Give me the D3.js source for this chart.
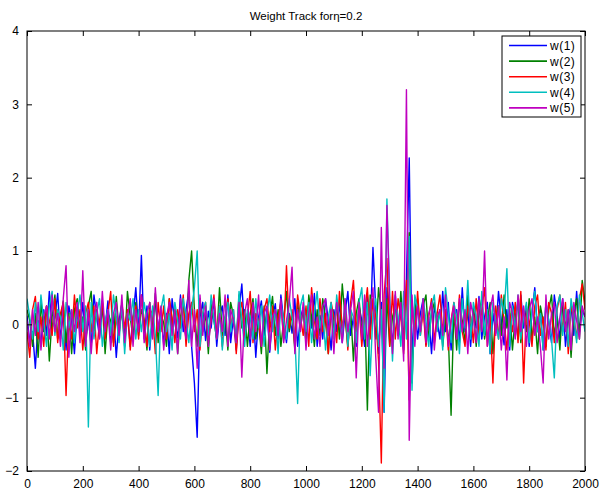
<!DOCTYPE html>
<html>
<head>
<meta charset="utf-8">
<script src="https://cdn.jsdelivr.net/npm/d3@7"></script>
<style>
  html, body { margin: 0; padding: 0; background: #fff; }
  svg { display: block; font-family: "Liberation Sans", Arial, sans-serif; }
</style>
</head>
<body>
<svg id="chart" width="600" height="491"></svg>
<script>
// Weight samples, one value every 10 iterations (0 .. 2000)
const step = 10;
const w1 = [
  0.12,-0.25,-0.1,-0.6,0.05,-0.3,0.2,-0.15,0.45,-0.05,0.1,0.42,-0.2,0.15,-0.35,0.25,0.05,-0.4,0.18,-0.1,
  0.3,-0.22,0.08,-0.3,0.4,0.1,-0.18,0.22,-0.05,0.32,-0.25,0.15,-0.45,0.05,0.28,-0.12,0.18,-0.3,0.1,0.5,
  -0.1,0.94,-0.2,0.25,-0.35,0.12,0.3,-0.08,0.2,-0.28,0.15,-0.4,0.35,0.02,-0.18,0.4,-0.1,0.2,0.45,-0.3,
  -0.8,-1.54,0.1,0.3,-0.22,0.18,-0.05,0.35,-0.3,0.12,0.25,-0.15,0.4,-0.25,0.1,-0.35,0.2,0.55,-0.1,0.15,
  -0.3,0.25,-0.45,0.1,0.32,-0.15,0.2,-0.38,0.08,0.28,-0.2,0.4,0.05,-0.25,0.15,-0.12,0.35,-0.3,0.1,0.22,
  -0.18,0.3,-0.05,0.42,-0.3,0.12,-0.2,0.35,0.05,-0.35,0.2,-0.1,0.3,-0.25,0.15,0.45,-0.15,0.1,-0.3,0.25,
  0.05,-0.3,0.4,-0.15,1.05,0.2,-0.4,0.3,-1.2,0.5,0.15,-0.3,0.4,-0.1,0.2,-0.35,0.6,2.27,-0.5,0.3,
  -0.2,0.15,0.35,-0.28,0.1,-0.4,0.25,0.05,-0.2,0.45,-0.1,0.3,-0.35,0.12,0.2,-0.25,0.5,-0.1,0.18,-0.3,
  0.22,-0.05,0.38,-0.2,0.1,0.3,-0.4,0.15,-0.12,0.45,0.05,-0.28,0.2,-0.35,0.3,0.1,-0.2,0.4,-0.05,0.25,
  -0.3,0.15,0.5,-0.1,0.2,-0.35,0.3,0.05,-0.25,0.4,0.12,-0.2,0.35,-0.3,0.1,0.25,-0.15,0.45,-0.1,0.2,
  0.1
];
const w2 = [
  0.2,0.05,-0.3,0.15,-0.45,0.3,-0.1,0.25,-0.5,0.1,0.4,-0.2,0.05,0.32,-0.25,0.15,-0.4,0.2,0.35,-0.1,
  0.1,-0.35,0.25,0.45,-0.15,0.2,-0.05,0.3,-0.4,0.15,0.05,-0.25,0.38,-0.1,0.2,-0.3,0.45,0.1,-0.2,0.3,
  -0.15,0.2,0.05,-0.35,0.3,-0.1,0.42,-0.25,0.15,0.02,-0.3,0.35,-0.05,0.25,-0.4,0.1,0.3,-0.2,0.6,1.0,
  0.2,-0.3,0.35,-0.1,0.15,-0.4,0.28,0.05,-0.2,0.5,-0.15,0.1,-0.35,0.3,0.12,-0.25,0.4,-0.05,0.2,-0.3,
  0.15,0.35,-0.2,0.05,-0.4,0.25,-0.67,0.1,0.38,-0.15,0.2,-0.3,0.05,0.45,-0.1,0.15,-0.35,0.3,-0.05,0.2,
  -0.25,0.4,0.1,-0.3,0.2,-0.15,0.35,0.05,-0.4,0.25,-0.1,0.3,-0.2,0.55,0.1,-0.3,0.2,-0.5,0.15,0.35,
  -0.1,0.25,-1.17,0.4,0.3,-0.2,0.5,0.15,-0.6,0.35,-0.3,0.1,0.25,-0.15,0.45,-0.2,0.3,1.25,-0.8,0.2,
  0.35,-0.1,0.25,0.4,-0.2,0.15,0.3,-0.05,0.2,-0.3,0.1,-0.15,-1.24,0.2,-0.35,0.3,0.05,-0.25,0.4,-0.1,
  0.2,-0.3,0.15,0.35,-0.2,0.05,0.3,-0.4,0.1,0.25,-0.15,0.4,-0.05,0.2,-0.35,0.1,0.3,-0.25,0.15,-0.1,
  0.35,-0.2,0.1,-0.4,0.25,0.05,-0.3,0.2,0.4,-0.15,0.1,-0.35,0.3,-0.05,0.2,-0.45,0.15,0.35,-0.2,0.6,
  0.3
];
const w3 = [
  -0.1,-0.45,0.2,0.38,-0.2,0.1,-0.3,0.25,0.05,-0.15,0.35,-0.25,0.15,0.3,-0.97,0.1,-0.2,0.4,-0.05,0.2,
  -0.35,0.15,0.3,-0.1,0.25,-0.4,0.05,0.32,-0.2,0.15,0.45,-0.3,0.1,-0.15,0.3,-0.05,0.2,-0.35,0.1,0.25,
  -0.2,0.4,0.05,-0.3,0.2,0.15,-0.4,0.3,-0.1,0.25,-0.2,0.35,0.1,-0.25,0.2,-0.05,0.4,-0.3,0.15,0.3,
  -0.1,0.2,-0.35,0.15,0.3,-0.2,0.05,0.4,-0.15,0.25,-0.3,0.1,0.35,-0.05,0.2,-0.4,0.15,0.3,-0.2,0.1,
  0.45,-0.25,0.15,0.05,-0.3,0.2,0.35,-0.1,0.25,-0.35,0.1,0.3,-0.2,0.8,-0.05,0.2,-0.3,0.4,0.1,-0.15,
  0.25,-0.3,0.5,0.05,-0.2,0.35,-0.1,0.15,-0.4,0.3,0.1,-0.25,0.45,-0.05,0.2,-0.35,0.3,0.6,-0.1,0.25,
  -0.3,0.15,0.5,-0.2,0.35,0.1,-0.5,-1.89,0.4,0.9,-0.3,0.45,-0.2,0.35,0.1,-0.4,0.6,-1.03,0.3,-0.2,
  0.45,-0.15,0.2,-0.3,0.1,0.35,-0.25,0.15,0.4,-0.1,0.2,-0.35,0.05,0.3,-0.2,0.4,-0.1,-0.3,0.25,0.1,
  -0.25,0.35,-0.15,0.2,0.5,-0.3,0.1,-0.8,0.25,-0.2,0.4,0.05,-0.35,0.15,-0.1,0.3,-0.25,0.45,-0.8,0.2,
  0.05,-0.3,0.25,0.4,-0.15,0.1,-0.35,0.3,0.15,-0.25,0.2,0.4,-0.1,0.3,-0.4,0.25,0.1,-0.2,0.35,0.55,
  0.2
];
const w4 = [
  0.35,0.1,-0.2,0.3,-0.1,0.4,0.05,-0.3,0.25,0.45,-0.15,0.2,0.1,-0.35,0.3,-0.05,0.2,-0.25,0.15,0.4,
  -0.1,0.25,-1.4,0.3,-0.2,0.15,0.35,-0.3,0.05,0.2,-0.15,0.4,0.1,-0.25,0.3,-0.4,0.15,0.05,0.35,-0.2,
  0.2,-0.1,0.3,0.05,-0.3,0.25,-0.15,-0.97,0.2,0.4,-0.1,0.15,-0.35,0.3,0.05,-0.2,0.35,0.1,-0.25,0.2,
  0.5,1.0,-0.3,0.15,0.3,-0.15,0.4,0.05,-0.2,0.25,-0.35,0.1,0.3,-0.1,0.2,-0.25,0.45,0.05,-0.3,0.2,
  0.1,-0.2,0.35,-0.05,0.25,-0.3,0.15,0.4,-0.1,0.2,-0.4,0.3,0.05,-0.2,0.35,0.1,-0.15,-1.08,0.25,0.4,
  -0.1,0.3,-0.25,0.15,0.45,-0.05,0.2,-0.35,0.1,0.3,-0.2,0.4,0.05,-0.15,0.35,-0.3,0.2,0.1,-0.25,0.3,
  0.5,-0.2,0.3,-0.7,0.15,0.35,-0.3,0.2,-1.2,1.71,0.4,-0.5,0.3,0.1,-0.3,0.45,-0.2,1.2,-0.9,0.4,
  0.2,-0.15,0.35,0.05,-0.3,0.25,0.4,-0.1,0.2,-0.35,0.5,0.15,-0.25,0.3,0.1,-0.4,0.35,-0.05,0.6,-0.2,
  0.3,0.1,-0.3,0.45,-0.15,0.2,-0.4,0.3,0.05,-0.2,0.35,0.15,0.76,-0.3,0.25,-0.1,0.4,-0.2,0.1,0.3,
  -0.25,0.2,0.45,-0.1,0.15,-0.35,0.3,0.05,-0.2,-0.73,0.25,0.4,-0.15,0.2,-0.3,0.35,0.1,-0.25,0.4,0.15,
  -0.1
];
const w5 = [
  0.05,-0.3,0.2,-0.15,0.3,-0.35,0.1,0.25,-0.2,0.4,-0.1,0.15,-0.3,0.35,0.8,-0.45,0.2,-0.1,0.3,-0.25,
  0.73,-0.3,0.2,-0.4,0.1,0.3,-0.2,0.45,-0.1,0.2,-0.35,0.15,0.3,-0.15,0.4,-0.25,0.1,0.35,-0.3,0.2,
  -0.1,0.4,-0.25,0.15,0.3,-0.2,0.5,-0.1,0.25,-0.35,0.1,0.3,-0.15,0.2,-0.4,0.35,0.05,-0.2,0.6,-0.3,
  0.2,-0.6,0.4,-0.15,0.25,-0.3,0.1,0.35,-0.2,0.15,-0.1,0.4,-0.3,0.2,0.05,-0.25,0.3,-0.72,0.15,0.35,
  -0.2,0.3,-0.1,0.4,-0.3,0.15,0.25,-0.35,0.1,0.2,-0.15,0.35,-0.25,0.05,0.3,0.78,-0.4,0.2,-0.1,0.3,
  -0.35,0.15,0.4,-0.2,0.1,-0.3,0.25,0.35,-0.15,0.2,-0.4,0.3,0.05,-0.25,0.35,-0.1,0.2,0.45,-0.73,0.3,
  -0.2,0.4,-0.3,0.2,0.5,-0.45,-1.2,1.32,-0.6,1.62,0.3,-0.4,0.45,-0.2,0.3,-0.5,3.2,-1.58,0.4,-0.3,
  0.25,-0.1,0.35,-0.25,0.15,0.3,-0.35,0.1,0.2,-0.15,0.4,-0.3,0.05,0.25,-0.2,0.35,-0.1,0.2,-0.4,0.3,
  0.1,-0.25,0.35,-0.1,1.0,-0.3,0.2,0.4,-0.15,0.25,-0.35,0.1,-0.76,0.3,0.15,-0.2,0.4,-0.1,0.25,-0.3,
  0.2,0.35,-0.15,0.1,-0.3,-0.8,0.4,-0.2,0.15,0.3,-0.25,0.1,0.35,-0.1,0.2,-0.35,0.3,0.05,-0.2,0.25,
  0.1
];

const seriesNames = ["w(1)", "w(2)", "w(3)", "w(4)", "w(5)"];
const seriesColors = ["#0000ff", "#008000", "#ff0000", "#00bfbf", "#bf00bf"];
const seriesValues = [w1, w2, w3, w4, w5];
const xTicks = [0, 200, 400, 600, 800, 1000, 1200, 1400, 1600, 1800, 2000];
const yTicks = [-2, -1, 0, 1, 2, 3, 4];
const titleText = "Weight Track for\u03b7=0.2";

const svg = d3.select("#chart");
const plotL = 27, plotR = 585, plotT = 31, plotB = 471;

const x = d3.scaleLinear().domain([0, 2000]).range([plotL, plotR]);
const y = d3.scaleLinear().domain([-2, 4]).range([plotB, plotT]);

svg.append("defs").append("clipPath").attr("id", "plotClip")
  .append("rect").attr("x", plotL).attr("y", plotT)
  .attr("width", plotR - plotL).attr("height", plotB - plotT);

const line = d3.line()
  .x((d, i) => x(i * step))
  .y(d => y(d));

const lines = svg.append("g").attr("clip-path", "url(#plotClip)");
seriesValues.forEach((vals, k) => {
  lines.append("path")
    .datum(vals)
    .attr("fill", "none")
    .attr("stroke", seriesColors[k])
    .attr("stroke-width", 1.4)
    .attr("stroke-linejoin", "round")
    .attr("d", line);
});

// Axes with inward ticks on all four sides
const tickLen = 5;
const fontSize = 12;
const axB = d3.axisBottom(x).tickValues(xTicks).tickSizeInner(-tickLen).tickSizeOuter(0).tickPadding(tickLen + 3)
  .tickFormat(d => String(d));
const axT = d3.axisTop(x).tickValues(xTicks).tickSizeInner(-tickLen).tickSizeOuter(0).tickFormat("");
const axL = d3.axisLeft(y).tickValues(yTicks).tickSizeInner(-tickLen).tickSizeOuter(0).tickPadding(tickLen + 3)
  .tickFormat(d => d < 0 ? "\u2212" + Math.abs(d) : String(d));
const axR = d3.axisRight(y).tickValues(yTicks).tickSizeInner(-tickLen).tickSizeOuter(0).tickFormat("");

function styleAxis(g) {
  g.select(".domain").remove();
  g.selectAll("line").attr("stroke", "#000").attr("stroke-width", 1);
  g.selectAll("text").attr("fill", "#000").style("font-size", fontSize + "px")
    .style("font-family", "'Liberation Sans', Arial, sans-serif");
}
svg.append("g").attr("transform", `translate(0,${plotB})`).call(axB).call(styleAxis);
svg.append("g").attr("transform", `translate(0,${plotT})`).call(axT).call(styleAxis);
svg.append("g").attr("transform", `translate(${plotL},0)`).call(axL).call(styleAxis);
svg.append("g").attr("transform", `translate(${plotR},0)`).call(axR).call(styleAxis);

// Plot frame
svg.append("rect")
  .attr("x", plotL).attr("y", plotT)
  .attr("width", plotR - plotL).attr("height", plotB - plotT)
  .attr("fill", "none").attr("stroke", "#000").attr("stroke-width", 1);

// Title
svg.append("text")
  .attr("x", (plotL + plotR) / 2).attr("y", 20)
  .attr("text-anchor", "middle")
  .style("font-size", "11.5px")
  .attr("fill", "#000")
  .text(titleText);

// Legend
const lg = svg.append("g");
const lgX = 502, lgY = 36, lgW = 79, lgH = 81, rowH = 15.6;
lg.append("rect").attr("x", lgX).attr("y", lgY).attr("width", lgW).attr("height", lgH)
  .attr("fill", "#fff").attr("stroke", "#000").attr("stroke-width", 1);
seriesNames.forEach((name, k) => {
  const cy = lgY + 9.5 + k * rowH;
  lg.append("line").attr("x1", lgX + 7).attr("x2", lgX + 45)
    .attr("y1", cy).attr("y2", cy)
    .attr("stroke", seriesColors[k]).attr("stroke-width", 1.6);
  lg.append("text").attr("x", lgX + 48).attr("y", cy + 4.5)
    .style("font-size", "12px").style("letter-spacing", "0.5px")
    .attr("fill", "#000").text(name);
});
</script>
</body>
</html>
